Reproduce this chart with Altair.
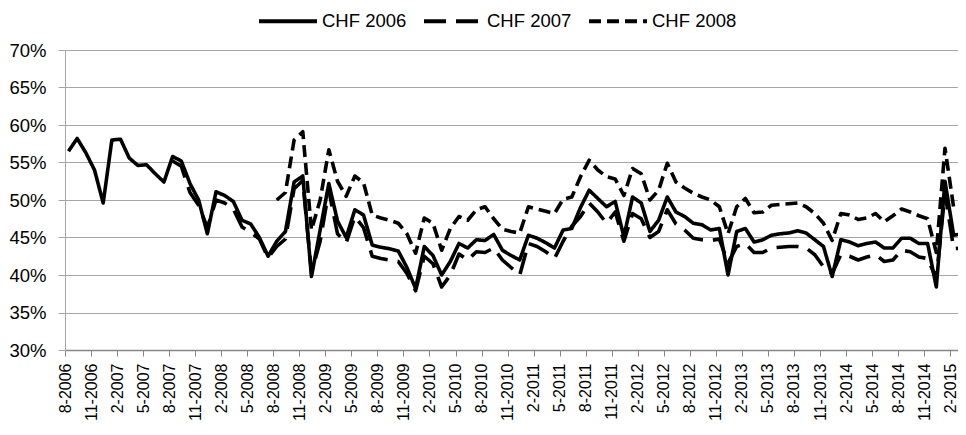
import json
import altair as alt
import pandas as pd

tick_labels = [
    "8-2006", "11-2006", "2-2007", "5-2007", "8-2007", "11-2007", "2-2008", "5-2008",
    "8-2008", "11-2008", "2-2009", "5-2009", "8-2009", "11-2009", "2-2010", "5-2010",
    "8-2010", "11-2010", "2-2011", "5-2011", "8-2011", "11-2011", "2-2012", "5-2012",
    "8-2012", "11-2012", "2-2013", "5-2013", "8-2013", "11-2013", "2-2014", "5-2014",
    "8-2014", "11-2014", "2-2015",
]

series_names = ["CHF 2006", "CHF 2007", "CHF 2008"]
series_start = [0, 12, 24]  # month index of first value (0 = 8-2006)

chf2006 = [
    56.5, 58.2, 56.3, 54.0, 49.6, 58.0, 58.1, 55.6, 54.6, 54.7, 53.5, 52.4,
    55.8, 55.2, 52.2, 50.0, 45.5, 51.1, 50.6, 49.8, 47.3, 46.8, 45.0, 42.5,
    44.5, 45.8, 52.4, 53.2, 39.8, 46.0, 52.2, 47.2, 45.0, 48.7, 48.0, 44.0,
    43.7, 43.5, 43.2, 41.0, 38.2, 43.8, 42.6, 40.0, 41.8, 44.2, 43.6, 44.7,
    44.6, 45.4, 43.3, 42.6, 42.0, 45.3, 44.9, 44.3, 43.6, 46.0, 46.2, 49.0,
    51.3, 50.2, 49.1, 49.8, 45.1, 50.4, 49.6, 45.8, 47.3, 50.4, 48.4, 47.8,
    46.9, 46.7, 46.0, 46.2, 40.0, 45.8, 46.2, 44.4, 44.7, 45.3, 45.5, 45.6,
    45.9, 45.6, 44.7, 43.8, 39.8, 44.7, 44.4, 43.9, 44.2, 44.4, 43.6, 43.6,
    44.9, 44.9, 44.2, 44.2, 38.4, 52.5, 45.3, 45.5,
]

chf2007 = [
    55.2, 54.5, 51.0, 49.3, 46.3, 50.0, 49.6, 48.8, 46.4, 45.7, 44.8, 42.3,
    43.8, 44.8, 51.5, 52.6, 40.3, 44.5, 51.3, 45.5, 44.3, 47.8, 46.3, 42.5,
    42.2, 42.0, 41.8, 40.2, 37.9, 42.5, 41.5, 38.4, 40.0, 42.8, 42.0, 43.1,
    43.0, 43.6, 42.0, 41.0, 40.0, 44.2, 43.8, 43.1, 42.2, 44.5, 46.5, 47.8,
    49.6, 48.4, 46.9, 48.4, 44.5, 48.2, 47.5, 45.0, 45.8, 48.7, 46.8, 46.0,
    44.9, 44.7, 44.6, 44.8, 41.6, 43.8, 44.2, 43.0, 43.0, 43.6, 43.7, 43.8,
    43.8, 43.6, 42.7, 41.1, 40.2, 42.7, 42.5, 42.0, 42.4, 42.7, 41.8, 42.0,
    43.3, 43.1, 42.4, 42.2, 39.5, 51.0, 43.5, 43.6,
]

chf2008 = [
    50.0, 51.0, 58.0, 59.1, 46.0, 50.0, 56.7, 52.5, 50.5, 53.2, 52.3, 48.0,
    47.6, 47.3, 46.9, 45.5, 42.9, 47.6, 46.9, 43.3, 46.2, 47.8, 47.3, 48.7,
    49.1, 47.5, 46.1, 45.8, 45.6, 49.1, 48.8, 48.5, 48.2, 50.1, 50.4, 53.1,
    55.3, 54.0, 53.1, 52.8, 50.6, 54.2, 53.5, 50.0, 51.3, 54.9, 52.4, 51.6,
    50.9, 50.4, 50.0, 49.1, 45.5, 49.1, 50.2, 48.3, 48.4, 49.3, 49.4, 49.5,
    49.6, 49.1, 48.2, 46.9, 44.6, 48.2, 48.0, 47.4, 47.6, 48.2, 47.1, 47.9,
    48.8, 48.4, 47.9, 47.5, 43.0, 56.9, 49.0, 48.8,
]

rows = []
for name, start, vals in zip(series_names, series_start, [chf2006, chf2007, chf2008]):
    for k, v in enumerate(vals):
        rows.append({"series": name, "m": start + k, "v": v / 100.0})
df = pd.DataFrame(rows)

label_expr = json.dumps(tick_labels) + "[round(datum.value / 3)]"
y_ticks = [round(0.30 + 0.05 * k, 2) for k in range(9)]
FONT = "Liberation Sans, Arial, sans-serif"

chart = (
    alt.Chart(df)
    .transform_calculate(x="datum.m + 0.4")
    .mark_line(strokeWidth=3.6, color="black", clip=True, strokeJoin="round")
    .encode(
        x=alt.X(
            "x:Q",
            scale=alt.Scale(domain=[0, 102.9], nice=False, zero=False),
            axis=alt.Axis(
                values=list(range(0, 103, 3)),
                labelExpr=label_expr,
                labelAngle=270,
                title=None,
                grid=False,
                tickSize=6,
                labelPadding=7,
                labelFontSize=16,
                labelFont=FONT,
                labelColor="black",
                domainColor="#888888",
                domainWidth=1.5,
                tickColor="#888888",
                labelOverlap=False,
            ),
        ),
        y=alt.Y(
            "v:Q",
            scale=alt.Scale(domain=[0.3, 0.7], nice=False, zero=False),
            axis=alt.Axis(
                values=y_ticks,
                format=".0%",
                title=None,
                tickSize=7,
                labelPadding=12,
                labelFontSize=18.5,
                labelFont=FONT,
                labelColor="black",
                gridColor="#a6a6a6",
                domainColor="#a6a6a6",
                tickColor="#a6a6a6",
            ),
        ),
        strokeDash=alt.StrokeDash(
            "series:N",
            scale=alt.Scale(domain=series_names, range=[[1, 0], [22, 10], [12, 6]]),
            legend=alt.Legend(
                title=None,
                orient="none",
                legendX=192,
                legendY=-60,
                direction="horizontal",
                symbolType="stroke",
                symbolSize=3364,
                symbolStrokeWidth=4,
                symbolStrokeColor="black",
                labelFontSize=18.5,
                labelFont=FONT,
                labelColor="black",
                labelOffset=3,
                columnPadding=9,
                padding=0,
            ),
        ),
    )
    .properties(
        width=893,
        height=300,
        autosize=alt.AutoSizeParams(type="none"),
        padding={"left": 57, "top": 42, "right": 0, "bottom": 85},
    )
    .configure_view(stroke=None)
)

chart.save("out.html", embed_options={"renderer": "svg", "actions": False})
